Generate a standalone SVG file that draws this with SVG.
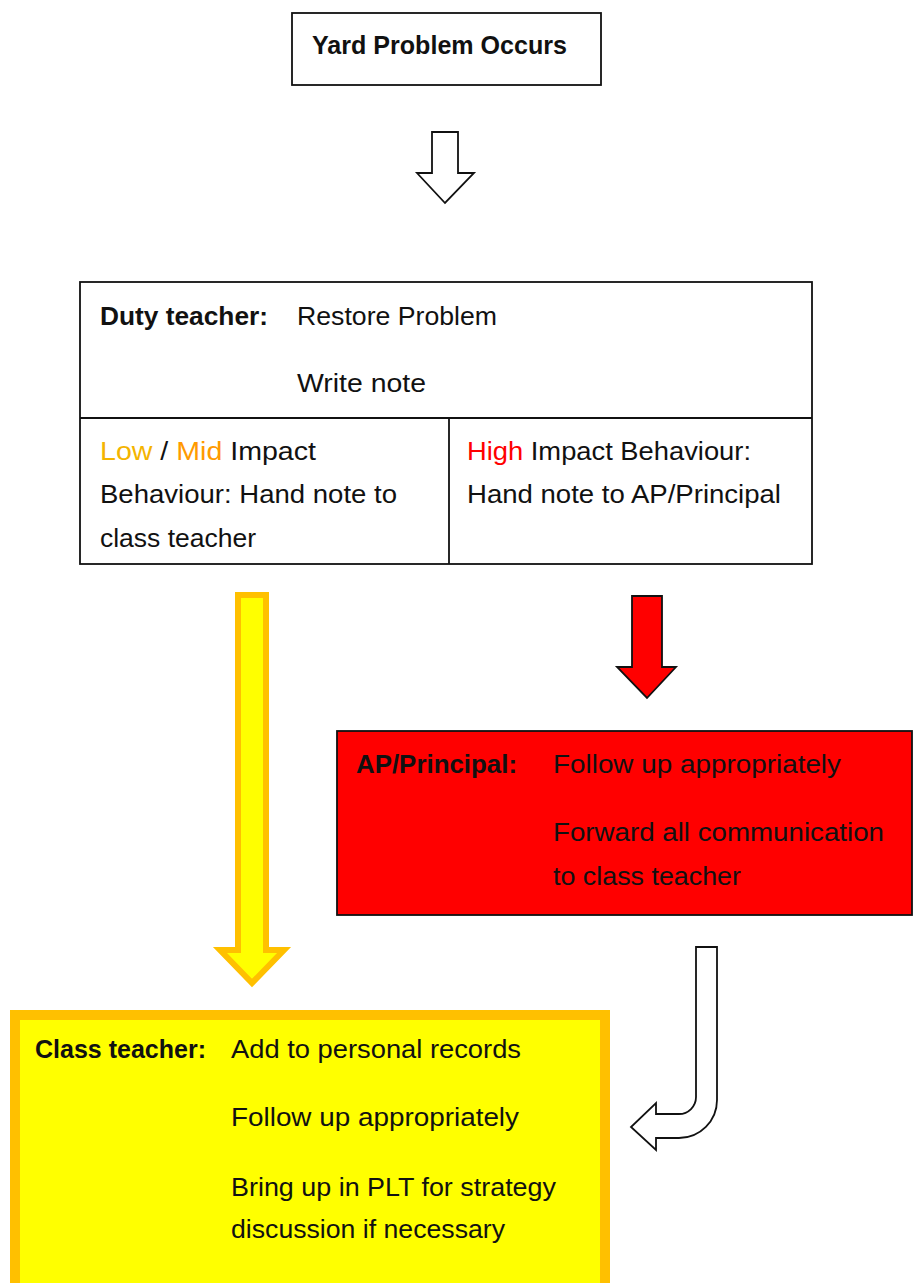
<svg xmlns="http://www.w3.org/2000/svg" width="913" height="1283" viewBox="0 0 913 1283">
<style>
.t{font-family:"Liberation Sans",Arial,sans-serif;font-size:25px;fill:#111}
.b{font-weight:bold}
.box{fill:#fff;stroke:#111;stroke-width:1.8}
</style>
<rect width="913" height="1283" fill="#fff"/>
<g id="start">
<rect class="box" x="292" y="13" width="309" height="72"/>
<text class="t b" x="312" y="54" textLength="255" lengthAdjust="spacingAndGlyphs">Yard Problem Occurs</text>
</g>
<g id="duty">
<rect class="box" x="80" y="282" width="732" height="282"/>
<line x1="80" y1="418" x2="812" y2="418" stroke="#111" stroke-width="1.8"/>
<line x1="449" y1="418" x2="449" y2="564" stroke="#111" stroke-width="1.8"/>
<text class="t b" x="100" y="325" textLength="168" lengthAdjust="spacingAndGlyphs">Duty teacher:</text>
<text class="t" x="297" y="325" textLength="200" lengthAdjust="spacingAndGlyphs">Restore Problem</text>
<text class="t" x="297" y="392" textLength="129" lengthAdjust="spacingAndGlyphs">Write note</text>
<text class="t" x="100" y="460" textLength="216" lengthAdjust="spacingAndGlyphs"><tspan fill="#F4B400">Low</tspan> / <tspan fill="#FF9A00">Mid</tspan> Impact</text>
<text class="t" x="100" y="503" textLength="297" lengthAdjust="spacingAndGlyphs">Behaviour: Hand note to</text>
<text class="t" x="100" y="547" textLength="156" lengthAdjust="spacingAndGlyphs">class teacher</text>
<text class="t" x="467" y="460" textLength="284" lengthAdjust="spacingAndGlyphs"><tspan fill="#FF0000">High</tspan> Impact Behaviour:</text>
<text class="t" x="467" y="503" textLength="314" lengthAdjust="spacingAndGlyphs">Hand note to AP/Principal</text>
</g>
<g id="ap">
<rect x="337" y="731" width="575" height="184" fill="#FF0000" stroke="#111" stroke-width="1.8"/>
<text class="t b" x="356" y="773" textLength="161" lengthAdjust="spacingAndGlyphs">AP/Principal:</text>
<text class="t" x="553" y="773" textLength="288" lengthAdjust="spacingAndGlyphs">Follow up appropriately</text>
<text class="t" x="553" y="841" textLength="331" lengthAdjust="spacingAndGlyphs">Forward all communication</text>
<text class="t" x="553" y="885" textLength="188" lengthAdjust="spacingAndGlyphs">to class teacher</text>
</g>
<g id="classteacher">
<rect x="15" y="1015" width="590" height="280" fill="#FFFF00" stroke="#FFC000" stroke-width="10"/>
<text class="t b" x="35" y="1058" textLength="171" lengthAdjust="spacingAndGlyphs">Class teacher:</text>
<text class="t" x="231" y="1058" textLength="290" lengthAdjust="spacingAndGlyphs">Add to personal records</text>
<text class="t" x="231" y="1126" textLength="288" lengthAdjust="spacingAndGlyphs">Follow up appropriately</text>
<text class="t" x="231" y="1196" textLength="325" lengthAdjust="spacingAndGlyphs">Bring up in PLT for strategy</text>
<text class="t" x="231" y="1238" textLength="274" lengthAdjust="spacingAndGlyphs">discussion if necessary</text>
</g>
<g id="connectors">
<path d="M432,132 L458,132 L458,173 L474,173 L445,203 L417,173 L432,173 Z" fill="#fff" stroke="#111" stroke-width="1.8" stroke-linejoin="miter"/>
<path d="M238,595 L266,595 L266,950 L284,950 L252,983 L220,950 L238,950 Z" fill="#FFFF00" stroke="#FFC000" stroke-width="6"/>
<path d="M632,596 L662,596 L662,667 L676,667 L647,698 L617,667 L632,667 Z" fill="#FF0000" stroke="#111" stroke-width="1.8"/>
<path d="M696,947 L717,947 L717,1100 A38,38 0 0 1 679,1138 L656,1138 L656,1150 L631,1127 L656,1103 L656,1114 L679,1114 A17,17 0 0 0 696,1097 Z" fill="#fff" stroke="#111" stroke-width="1.8"/>
</g>
</svg>
